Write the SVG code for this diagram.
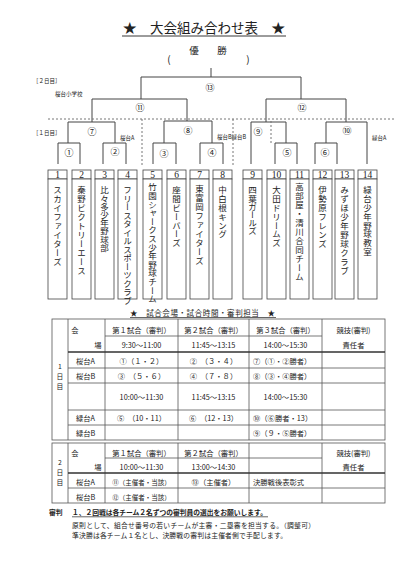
<svg xmlns="http://www.w3.org/2000/svg" width="401" height="568" viewBox="0 0 401 568">
<style>
text{font-family:"Noto Sans CJK JP","Noto Sans CJK SC",sans-serif;fill:#222}
.ln{stroke:#444;stroke-width:1;fill:none}
.dash{stroke:#777;stroke-width:1;stroke-dasharray:2,2;fill:none}
.cn{font-size:9px;text-anchor:middle}
.lbl{font-size:5.5px}
.num{font-family:"Liberation Serif",serif;font-size:9.5px;text-anchor:middle}
.name{font-size:8.5px;writing-mode:vertical-rl}
.box{fill:#fff;stroke:#444;stroke-width:0.8}
.tb{stroke:#555;stroke-width:0.8;fill:none}
.tk{stroke:#333;stroke-width:1.5;fill:none}
.t{font-size:7.3px}
.c{text-anchor:middle}
.d{font-size:6.8px;text-anchor:middle}
.nt{font-size:6.8px}
</style>
<g id="title">
<text x="204" y="33" font-size="13.5" text-anchor="middle">★　大会組み合わせ表　★</text>
<line x1="122" y1="36" x2="286" y2="36" stroke="#222" stroke-width="0.9"/>
</g>
<g id="champion">
<text x="194" y="53.5" font-size="9.5" text-anchor="middle">優</text>
<text x="222" y="53.5" font-size="9.5" text-anchor="middle">勝</text>
<text x="169" y="62.5" font-size="10" text-anchor="middle">(</text>
<text x="248" y="62.5" font-size="10" text-anchor="middle">)</text>
</g>
<g id="day-labels" class="lbl">
<text x="33" y="83">［２日目］</text>
<text x="55" y="96">桜台小学校</text>
<text x="33" y="135">［１日目］</text>
<text x="120" y="140">桜台A</text>
<text x="217" y="139">桜台B緑台B</text>
<text x="372" y="140">緑台A</text>
</g>
<g id="connectors">
<path class="ln" d="M211 68V77M141 99V77H301V99"/>
<path class="ln" d="M92 122V99H187V121"/>
<path class="ln" d="M266 122V99H346V122"/>
<path class="ln" d="M68 143V122H115V143"/>
<path class="ln" d="M164 143V121H212V143"/>
<path class="ln" d="M251 164V122H286V143"/>
<path class="ln" d="M326 143V122H367V164"/>
<path class="ln" d="M58 164V143H80V164"/>
<path class="ln" d="M103 164V143H126V164"/>
<path class="ln" d="M153 164V143H176V164"/>
<path class="ln" d="M200 164V143H223V164"/>
<path class="ln" d="M275 164V143H297V164"/>
<path class="ln" d="M315 164V143H337V164"/>
<path class="dash" d="M48 119H396M142 119V167M233 119V167M271 121V143"/>
</g>
<g id="m13"><text class="cn" x="210" y="91">⑬</text></g>
<g id="m11"><text class="cn" x="140" y="111">⑪</text></g>
<g id="m12"><text class="cn" x="302" y="111">⑫</text></g>
<g id="m7"><text class="cn" x="92" y="135">⑦</text></g>
<g id="m8"><text class="cn" x="188" y="134">⑧</text></g>
<g id="m9"><text class="cn" x="258" y="135">⑨</text></g>
<g id="m10"><text class="cn" x="347" y="134">⑩</text></g>
<g id="m1"><text class="cn" x="69" y="156">①</text></g>
<g id="m2"><text class="cn" x="115" y="155">②</text></g>
<g id="m3"><text class="cn" x="164" y="157">③</text></g>
<g id="m4"><text class="cn" x="212" y="156">④</text></g>
<g id="m5"><text class="cn" x="287" y="156">⑤</text></g>
<g id="m6"><text class="cn" x="325" y="156">⑥</text></g>
<g id="team-1"><rect class="box" x="48" y="170" width="19" height="9"/><rect class="box" x="48" y="179" width="19" height="120"/><text class="num" x="57.5" y="178">1</text><text class="name" x="57.5" y="186" letter-spacing="0.4">スカイファイターズ</text></g>
<g id="team-2"><rect class="box" x="72" y="170" width="19" height="9"/><rect class="box" x="72" y="179" width="19" height="120"/><text class="num" x="81.5" y="178">2</text><text class="name" x="81.5" y="186" letter-spacing="0.5">秦野ビクトリーエース</text></g>
<g id="team-3"><rect class="box" x="95" y="170" width="19" height="9"/><rect class="box" x="95" y="179" width="19" height="120"/><text class="num" x="104.5" y="178">3</text><text class="name" x="104.5" y="186" font-size="9.5" letter-spacing="-0.3">比々多少年野球部</text></g>
<g id="team-4"><rect class="box" x="118" y="170" width="19" height="9"/><rect class="box" x="118" y="179" width="19" height="120"/><text class="num" x="127.5" y="178">4</text><text class="name" x="127.5" y="186" font-size="7.2" letter-spacing="0">フリースタイルスポーツクラブ</text></g>
<g id="team-5"><rect class="box" x="143" y="170" width="19" height="9"/><rect class="box" x="143" y="179" width="19" height="120"/><text class="num" x="152.5" y="178">5</text><text class="name" x="152.5" y="183" font-size="8" letter-spacing="0.1">竹園シャークス少年野球チーム</text></g>
<g id="team-6"><rect class="box" x="167" y="170" width="19" height="9"/><rect class="box" x="167" y="179" width="19" height="120"/><text class="num" x="176.5" y="178">6</text><text class="name" x="176.5" y="186" letter-spacing="0.3">座間ビーバーズ</text></g>
<g id="team-7"><rect class="box" x="190" y="170" width="19" height="9"/><rect class="box" x="190" y="179" width="19" height="120"/><text class="num" x="199.5" y="178">7</text><text class="name" x="199.5" y="185" letter-spacing="0.4">東富岡ファイターズ</text></g>
<g id="team-8"><rect class="box" x="213" y="170" width="19" height="9"/><rect class="box" x="213" y="179" width="19" height="120"/><text class="num" x="222.5" y="178">8</text><text class="name" x="222.5" y="186" letter-spacing="0.3">中白根キング</text></g>
<g id="team-9"><rect class="box" x="243" y="170" width="19" height="9"/><rect class="box" x="243" y="179" width="19" height="120"/><text class="num" x="252.5" y="178">9</text><text class="name" x="252.5" y="186" letter-spacing="-0.3">四葉ガールズ</text></g>
<g id="team-10"><rect class="box" x="267" y="170" width="19" height="9"/><rect class="box" x="267" y="179" width="19" height="120"/><text class="num" x="276.5" y="178">10</text><text class="name" x="276.5" y="186" letter-spacing="0.3">大田ドリームズ</text></g>
<g id="team-11"><rect class="box" x="290" y="170" width="19" height="9"/><rect class="box" x="290" y="179" width="19" height="120"/><text class="num" x="299.5" y="178">11</text><text class="name" x="299.5" y="183" font-size="9" letter-spacing="0.5">高部屋・清川合同チーム</text></g>
<g id="team-12"><rect class="box" x="313" y="170" width="19" height="9"/><rect class="box" x="313" y="179" width="19" height="120"/><text class="num" x="322.5" y="178">12</text><text class="name" x="322.5" y="186" letter-spacing="0.5">伊勢原フレンズ</text></g>
<g id="team-13"><rect class="box" x="335" y="170" width="19" height="9"/><rect class="box" x="335" y="179" width="19" height="120"/><text class="num" x="344.5" y="178">13</text><text class="name" x="344.5" y="186" letter-spacing="0.5">みずほ少年野球クラブ</text></g>
<g id="team-14"><rect class="box" x="358" y="170" width="19" height="9"/><rect class="box" x="358" y="179" width="19" height="120"/><text class="num" x="367.5" y="178">14</text><text class="name" x="367.5" y="186" letter-spacing="0.3">緑台少年野球教室</text></g>
<g id="schedule-title">
<text x="130" y="315.5" font-size="7.5" textLength="145" lengthAdjust="spacing">★　試合会場・試合時間・審判担当　★</text>
<line x1="130" y1="317.5" x2="276" y2="317.5" stroke="#222" stroke-width="0.7"/>
</g>
<g id="schedule-table">
<rect class="tb" x="52" y="319" width="333" height="121"/>
<rect class="tb" x="52" y="443" width="333" height="60"/>
<path class="tb" d="M68 319V440M105 319V440M178 319V440M249 319V440M322 319V440M68 443V503M105 443V503M178 443V503M249 443V503M322 443V503"/>
<path class="tb" d="M105 336H322M68 368H385M68 383H385M68 410H385M68 425H385M105 458H322M68 488H385"/>
<path class="tk" d="M68 352H385M68 473H385"/>
<g class="t">
<text x="60" y="369" class="d">1</text><text x="60" y="379" class="d">日</text><text x="60" y="389" class="d">目</text>
<text x="75" y="333" class="c">会</text><text x="98" y="348" class="c">場</text>
<text x="76" y="363.6">桜台A</text><text x="76" y="378.6">桜台B</text><text x="76" y="420.6">緑台A</text><text x="76" y="435.6">緑台B</text>
<text x="141.5" y="332.6" class="c">第１試合（審判）</text><text x="213.5" y="332.6" class="c">第２試合（審判）</text><text x="285.5" y="332.6" class="c">第３試合（審判）</text>
<text x="353.5" y="332.6" class="c">競技(審判)</text><text x="353.5" y="347.6" class="c">責任者</text>
<text x="141.5" y="347.6" class="c">9:30～11:00</text><text x="213.5" y="347.6" class="c">11:45～13:15</text><text x="285.5" y="347.6" class="c">14:00～15:30</text>
<text x="141.5" y="363.6" class="c">①（１・２）</text><text x="213.5" y="363.6" class="c">②　（３・４）</text><text x="253" y="363.6">⑦（①・②勝者）</text>
<text x="141.5" y="378.6" class="c">③　（５・６）</text><text x="213.5" y="378.6" class="c">④　（７・８）</text><text x="253" y="378.6">⑧（③・④勝者）</text>
<text x="141.5" y="399.6" class="c">10:00～11:30</text><text x="213.5" y="399.6" class="c">11:45～13:15</text><text x="285.5" y="399.6" class="c">14:00～15:30</text>
<text x="141.5" y="420.6" class="c">⑤　（10・11）</text><text x="213.5" y="420.6" class="c">⑥　（12・13）</text><text x="253" y="420.6">⑩（⑥勝者・13）</text>
<text x="253" y="435.6">⑨（９・⑤勝者）</text>
<text x="60" y="465" class="d">2</text><text x="60" y="475" class="d">日</text><text x="60" y="485" class="d">目</text>
<text x="75" y="456" class="c">会</text><text x="98" y="470" class="c">場</text>
<text x="76" y="484.6">桜台A</text><text x="76" y="499.6">桜台B</text>
<text x="141.5" y="455.6" class="c">第１試合（審判）</text><text x="213.5" y="455.6" class="c">第２試合（審判）</text>
<text x="353.5" y="455.6" class="c">競技(審判)</text><text x="353.5" y="469.6" class="c">責任者</text>
<text x="141.5" y="469.6" class="c">10:00～11:30</text><text x="213.5" y="469.6" class="c">13:00～14:30</text>
<text x="141.5" y="484.6" class="c" font-size="6.5">⑪（主催者・当該）</text><text x="213.5" y="484.6" class="c">⑬（主催者）</text><text x="253" y="484.6">決勝戦後表彰式</text>
<text x="141.5" y="499.6" class="c" font-size="6.5">⑫（主催者・当該）</text>
</g>
</g>
<g id="notes" class="nt">
<text x="49" y="514.5" font-weight="bold">審判</text>
<text x="72" y="514.5" font-weight="bold" textLength="195" lengthAdjust="spacing">１、２回戦は各チーム２名ずつの審判員の選出をお願いします。</text>
<line x1="72" y1="516.8" x2="268" y2="516.8" stroke="#222" stroke-width="0.7"/>
<text x="72" y="527.5" textLength="243" lengthAdjust="spacing">原則として、組合せ番号の若いチームが主審・二塁審を担当する。（調整可）</text>
<text x="72" y="537.5" textLength="215" lengthAdjust="spacing">準決勝は各チーム１名とし、決勝戦の審判は主催者側で手配します。</text>
</g>
</svg>
